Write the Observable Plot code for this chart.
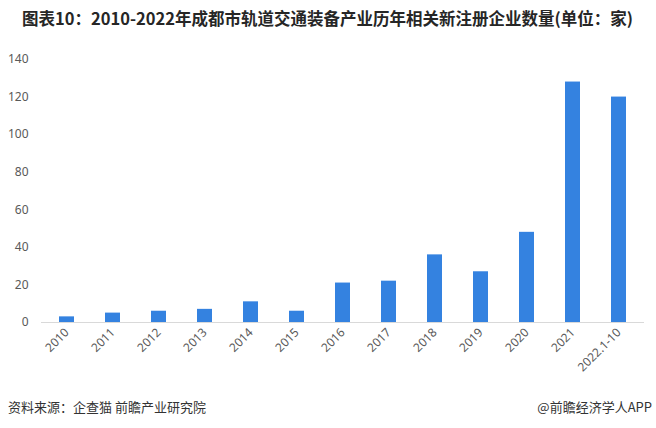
<!DOCTYPE html>
<html>
<head>
<meta charset="utf-8">
<script src="https://cdn.jsdelivr.net/npm/d3@7"></script>
<script src="https://cdn.jsdelivr.net/npm/@observablehq/plot@0.6"></script>
<style>
  html, body { margin: 0; padding: 0; background: #fff; }
  body { width: 656px; height: 428px; position: relative; overflow: hidden; font-family: "Noto Sans CJK SC", "Noto Sans", sans-serif; }
  #title { position: absolute; left: 22px; top: 6px; font-size: 16.5px; font-weight: bold; color: #262626; white-space: nowrap; }
  #chart { position: absolute; left: 0; top: 38px; }
  #source { position: absolute; left: 8px; top: 397px; font-size: 13px; color: #333; white-space: nowrap; }
  #brand { position: absolute; right: 4px; top: 397px; font-size: 13px; color: #333; white-space: nowrap; }
</style>
</head>
<body>
<div id="title">图表10：2010-2022年成都市轨道交通装备产业历年相关新注册企业数量(单位：家)</div>
<div id="chart"></div>
<div id="source">资料来源：企查猫 前瞻产业研究院</div>
<div id="brand">@前瞻经济学人APP</div>
<script>
const years = ["2010","2011","2012","2013","2014","2015","2016","2017","2018","2019","2020","2021","2022.1-10"];
const counts = [3, 5, 6, 7, 11, 6, 21, 22, 36, 27, 48, 128, 120];
const yTicks = [0, 20, 40, 60, 80, 100, 120, 140];

const data = years.map((y, i) => ({year: y, value: counts[i]}));

const chart = Plot.plot({
  width: 656,
  height: 355,
  marginTop: 21,
  marginBottom: 71,
  marginLeft: 41,
  marginRight: 12,
  style: {fontFamily: "'Noto Sans', 'Noto Sans CJK SC', sans-serif", fontSize: "12px", color: "#595959", background: "#fff"},
  x: {domain: years, paddingInner: 0.68, paddingOuter: 0.34, label: null},
  y: {domain: [0, 140], label: null},
  marks: [
    Plot.barY(data, {x: "year", y: "value", fill: "#3482e0"}),
    Plot.ruleY([0], {stroke: "#d9d9d9", strokeWidth: 1}),
    Plot.axisY({ticks: yTicks, tickSize: 0, tickPadding: 13, label: null, fill: "#595959"}),
    Plot.axisX({tickSize: 0, tickRotate: -45, tickPadding: 8, label: null, fill: "#595959"})
  ]
});
document.getElementById("chart").appendChild(chart);
</script>
</body>
</html>
